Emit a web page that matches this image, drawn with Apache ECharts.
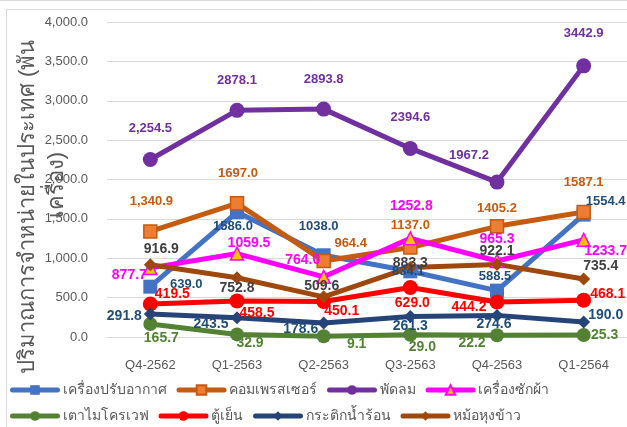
<!DOCTYPE html>
<html>
<head>
<meta charset="utf-8">
<script src="https://cdn.jsdelivr.net/npm/echarts@6/dist/echarts.min.js"></script>
<style>
  html, body { margin: 0; padding: 0; background: #fff; }
  #chart { width: 627px; height: 427px; }
</style>
</head>
<body>
<div id="chart"></div>
<script>
// ข้อมูล
const quarters = ['Q4-2562', 'Q1-2563', 'Q2-2563', 'Q3-2563', 'Q4-2563', 'Q1-2564']
const airCon = [639.0, 1586.0, 1038.0, 834.1, 588.5, 1554.4]
const compressor = [1340.9, 1697.0, 964.4, 1137.0, 1405.2, 1587.1]
const fan = [2254.5, 2878.1, 2893.8, 2394.6, 1967.2, 3442.9]
const washer = [877.7, 1059.5, 764.0, 1252.8, 965.3, 1233.7]
const microwave = [165.7, 32.9, 9.1, 29.0, 22.2, 25.3]
const fridge = [419.5, 458.5, 450.1, 629.0, 444.2, 468.1]
const kettle = [291.8, 243.5, 178.6, 261.3, 274.6, 190.0]
const riceCooker = [916.9, 752.8, 509.6, 883.3, 922.1, 735.4]
const yMin = 0, yMax = 4000, yStep = 500
const yTitle = ['ปริมาณการจำหน่ายในประเทศ (พัน', 'เครื่อง)']

// ตำแหน่งป้ายกำกับ (dx, dy จากจุด)
const offsets = {
  airCon: [[36, -2], [-4, 14], [-5, -29], [-2, 0], [-2, -14], [22, -13]],
  compressor: [[1, -30], [1, -30], [27, -18], [0, -22], [0, -18], [0, -30]],
  fan: [[0, -31], [0, -30], [0, -30], [0, -31], [-28, -27], [0, -32]],
  washer: [[-21, 7], [12, -10], [-21, -17], [1, -32], [0, -22], [22, 11]],
  microwave: [[11, 14], [13, 9], [33, 8], [12, 12], [-25, 8], [21, 0]],
  fridge: [[22, -10], [20, 12], [18, 10], [2, 16], [-28, 5], [24, -6]],
  kettle: [[-26, 2], [-26, 6], [-23, 6], [0, 10], [-3, 9], [22, -7]],
  riceCooker: [[11, -16], [0, 10], [-2, -11], [0, -4], [0, -13], [17, -13]]
}

const font = 'Liberation Sans, Arial, sans-serif'
const fmt = (v, comma) => comma
  ? v.toLocaleString('en-US', { minimumFractionDigits: 1, maximumFractionDigits: 1 })
  : v.toFixed(1)

function makeSeries(name, values, offs, opt) {
  return {
    name: name,
    type: 'line',
    data: values.map((v, i) => ({ value: v, label: { offset: offs[i] } })),
    symbol: opt.symbol,
    symbolSize: opt.size,
    lineStyle: { color: opt.line, width: 5, cap: 'round' },
    itemStyle: { color: opt.fill, borderColor: opt.border || opt.fill, borderWidth: opt.border ? 1.5 : 0 },
    label: {
      show: true,
      position: 'inside',
      color: opt.labelColor,
      fontSize: opt.fontSize || 14,
      fontWeight: 'bold',
      fontFamily: font,
      formatter: p => fmt(p.value, opt.commaFirst && p.dataIndex === 0)
    },
    emphasis: { disabled: true }
  }
}

const legendBase = {
  left: 10, itemWidth: 45, itemHeight: 12, itemGap: 10, padding: 0,
  lineStyle: { width: 5, cap: 'round' },
  textStyle: { color: '#595959', fontSize: 14, width: 72 }
}

const chart = echarts.init(document.getElementById('chart'))
chart.setOption({
  animation: false,
  backgroundColor: '#fff',
  graphic: [
    { type: 'line', shape: { x1: 0, y1: 0.5, x2: 627, y2: 0.5 }, style: { stroke: '#D9D9D9', lineWidth: 1 } },
    { type: 'rect', shape: { x: 6.5, y: 9.5, width: 700, height: 500 }, style: { fill: 'none', stroke: '#D9D9D9', lineWidth: 1 } },
    {
      type: 'text', x: 28, y: 207, rotation: Math.PI / 2,
      style: { text: yTitle[0], fill: '#595959', fontSize: 22, align: 'center', verticalAlign: 'middle' }
    },
    {
      type: 'text', x: 57, y: 185, rotation: Math.PI / 2,
      style: { text: yTitle[1], fill: '#595959', fontSize: 22, align: 'center', verticalAlign: 'middle' }
    }
  ],
  grid: { left: 107, right: 0, top: 22, bottom: 90 },
  legend: [
    Object.assign({ data: ['เครื่องปรับอากาศ', 'คอมเพรสเซอร์', 'พัดลม', 'เครื่องซักผ้า'], top: 383 }, legendBase),
    Object.assign({ data: ['เตาไมโครเวฟ', 'ตู้เย็น', 'กระติกน้ำร้อน', 'หม้อหุงข้าว'], top: 409 }, legendBase)
  ],
  xAxis: {
    type: 'category',
    data: quarters,
    boundaryGap: true,
    axisLine: { show: true, lineStyle: { color: '#D9D9D9' } },
    axisTick: { show: false },
    axisLabel: { color: '#595959', fontSize: 13, fontFamily: font, margin: 22 }
  },
  yAxis: {
    type: 'value',
    min: yMin, max: yMax, interval: yStep,
    axisLine: { show: false },
    axisTick: { show: false },
    splitLine: { lineStyle: { color: '#D9D9D9', width: 1 } },
    axisLabel: { color: '#595959', fontSize: 13, fontFamily: font, margin: 19, formatter: v => fmt(v, true) }
  },
  series: [
    makeSeries('เครื่องปรับอากาศ', airCon, offsets.airCon, { symbol: 'rect', size: 14, line: '#4472C4', fill: '#4472C4', labelColor: '#1F4E79', fontSize: 13 }),
    makeSeries('คอมเพรสเซอร์', compressor, offsets.compressor, { symbol: 'rect', size: 13, line: '#C55A11', fill: '#ED7D31', border: '#C55A11', labelColor: '#C55A11', fontSize: 13, commaFirst: true }),
    makeSeries('พัดลม', fan, offsets.fan, { symbol: 'circle', size: 15, line: '#7030A0', fill: '#7030A0', labelColor: '#7030A0', fontSize: 13, commaFirst: true }),
    makeSeries('เครื่องซักผ้า', washer, offsets.washer, { symbol: 'triangle', size: 13, line: '#FF00FF', fill: '#FFC000', border: '#FF00FF', labelColor: '#FF00FF' }),
    makeSeries('เตาไมโครเวฟ', microwave, offsets.microwave, { symbol: 'circle', size: 14, line: '#548235', fill: '#548235', labelColor: '#548235' }),
    makeSeries('ตู้เย็น', fridge, offsets.fridge, { symbol: 'circle', size: 15, line: '#FF0000', fill: '#FF0000', labelColor: '#FF0000' }),
    makeSeries('กระติกน้ำร้อน', kettle, offsets.kettle, { symbol: 'diamond', size: 13, line: '#264478', fill: '#264478', labelColor: '#1F4E79' }),
    makeSeries('หม้อหุงข้าว', riceCooker, offsets.riceCooker, { symbol: 'diamond', size: 13, line: '#9E480E', fill: '#9E480E', labelColor: '#404040' })
  ]
})
</script>
</body>
</html>
